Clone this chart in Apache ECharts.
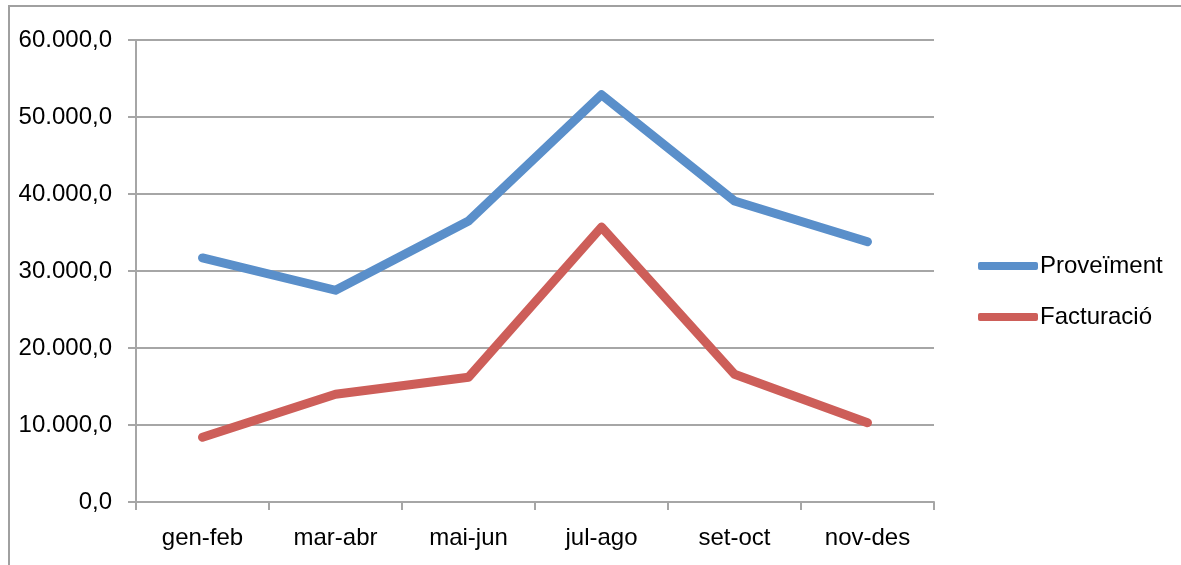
<!DOCTYPE html>
<html>
<head>
<meta charset="utf-8">
<script src="https://cdn.jsdelivr.net/npm/echarts@6/dist/echarts.min.js"></script>
<style>
    html, body { margin: 0; padding: 0; background: #fff; }
    #frame { position: absolute; left: 8px; top: 5px; width: 1200px; height: 600px; border: 2px solid #a0a0a0; box-sizing: border-box; }
    #main { position: absolute; left: 0; top: 0; width: 1181px; height: 565px; }
</style>
</head>
<body>
<div id="frame"></div>
<div id="main"></div>
<script>
    var categories = ['gen-feb', 'mar-abr', 'mai-jun', 'jul-ago', 'set-oct', 'nov-des'];
    var proveiment = [31700, 27500, 36500, 52900, 39100, 33800];
    var facturacio = [8400, 14000, 16200, 35700, 16600, 10300];
    var seriesNames = ['Proveïment', 'Facturació'];

    // format 60000 -> "60.000,0"
    function fmt(v) {
        var s = Math.round(v).toString().replace(/\B(?=(\d{3})+(?!\d))/g, '.');
        return s + ',0';
    }

    var gray = '#a6a6a6';
    var font = '"Liberation Sans", Arial, sans-serif';

    var myChart = echarts.init(document.getElementById('main'));
    var option = {
        animation: false,
        grid: { left: 136, right: 247, top: 40, bottom: 63 },
        legend: {
            orient: 'vertical',
            left: 973,
            top: 246,
            padding: 5,
            itemWidth: 60,
            itemHeight: 8,
            itemGap: 21,
            icon: 'roundRect',
            data: seriesNames,
            textStyle: { fontFamily: font, fontSize: 24, color: '#000', lineHeight: 30, padding: [0, 0, 0, -3] }
        },
        xAxis: {
            type: 'category',
            data: categories,
            boundaryGap: true,
            axisLine: { lineStyle: { color: gray, width: 2 } },
            axisTick: { show: true, length: 8, lineStyle: { color: gray, width: 2 } },
            axisLabel: { margin: 24, fontFamily: font, fontSize: 24, color: '#000' }
        },
        yAxis: {
            type: 'value',
            min: 0,
            max: 60000,
            interval: 10000,
            axisLine: { show: true, lineStyle: { color: gray, width: 2 } },
            axisTick: { show: true, length: 8, lineStyle: { color: gray, width: 2 } },
            splitLine: { lineStyle: { color: gray, width: 2 } },
            axisLabel: { margin: 24, fontFamily: font, fontSize: 24, color: '#000', formatter: fmt }
        },
        series: [
            {
                name: seriesNames[0],
                type: 'line',
                data: proveiment,
                symbol: 'none',
                itemStyle: { color: '#5a8fca' },
                lineStyle: { color: '#5a8fca', width: 9, cap: 'round', join: 'round' }
            },
            {
                name: seriesNames[1],
                type: 'line',
                data: facturacio,
                symbol: 'none',
                itemStyle: { color: '#cd5e59' },
                lineStyle: { color: '#cd5e59', width: 9, cap: 'round', join: 'round' }
            }
        ]
    };
    myChart.setOption(option);
</script>
</body>
</html>
